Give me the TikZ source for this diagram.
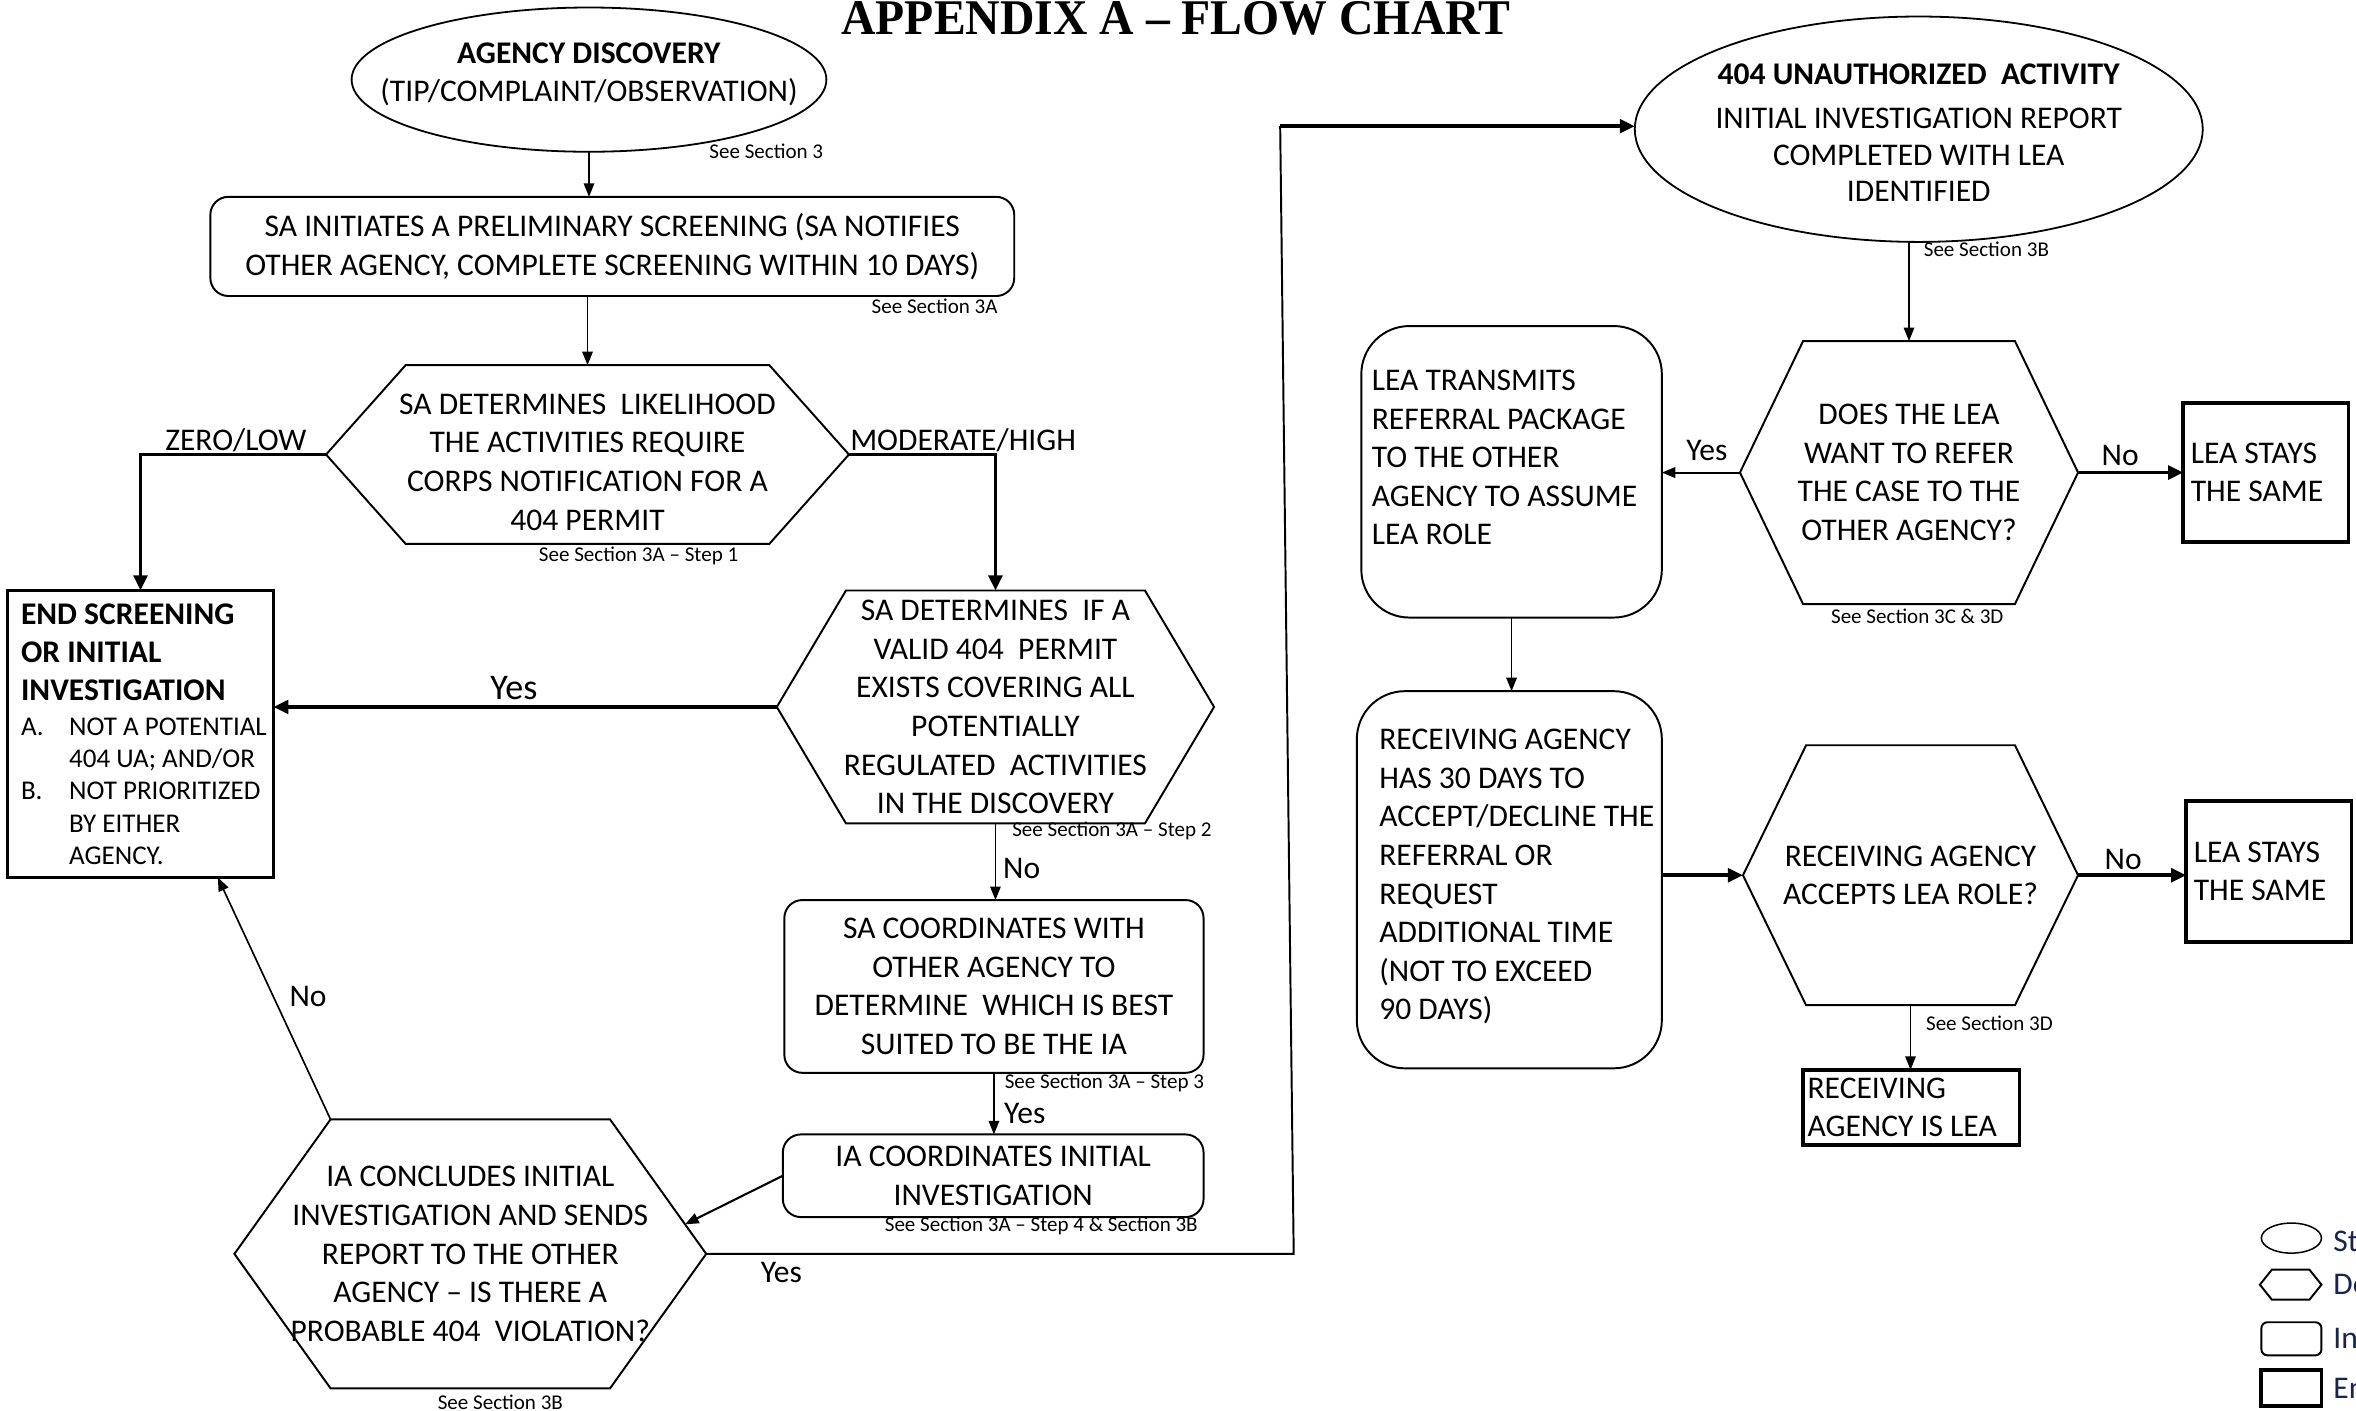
\documentclass[tikz,border=0pt]{standalone}
\usepackage{fontspec}
\setmainfont{Carlito}
\newfontfamily\titlefont{Liberation Serif}
\usetikzlibrary{shapes.geometric,arrows.meta,calc}

\newcommand{\bodyfont}{\fontsize{21}{25.7}\selectfont}
\newcommand{\notefont}{\fontsize{14}{16}\selectfont}
\newcommand{\listfont}{\fontsize{18}{21.5}\selectfont}
\newcommand{\headfont}{\fontsize{21}{25.5}\selectfont\bfseries}

% hexagon drawn round a plain node: #1 node name, #2 slant
\newcommand{\hexframe}[2]{%
  \draw[hexline] ([xshift=#2]#1.north west) -- ([xshift=-#2]#1.north east)
    -- (#1.east) -- ([xshift=-#2]#1.south east)
    -- ([xshift=#2]#1.south west) -- (#1.west) -- cycle;}

\definecolor{legtext}{RGB}{25,35,80}

\tikzset{
  every node/.style={font=\bodyfont, inner sep=0pt, outer sep=0pt},
  startoval/.style={ellipse, draw, line width=1.2pt, align=center},
  stepbox/.style={rectangle, draw, rounded corners=12pt, line width=1.3pt, align=center},
  tallbox/.style={rectangle, draw, rounded corners=32pt, line width=1.3pt},
  endbox/.style={rectangle, draw, line width=2.6pt},
  hexnode/.style={rectangle, align=center},
  hexline/.style={line width=1.3pt, line join=miter},
  note/.style={font=\notefont},
  flow/.style={line width=1.1pt, -{Triangle[length=9pt,width=7pt]}},
  boldflow/.style={line width=2.5pt, -{Triangle[length=10pt,width=9pt]}},
}

\begin{document}
\begin{tikzpicture}[x=1pt, y=-1pt]
  \path[use as bounding box, fill=white] (0,0) rectangle (1568,939);

  \node[anchor=base] (title) at (782.5,23)
    {\resizebox{445pt}{22pt}{\titlefont\bfseries APPENDIX A – FLOW CHART}};

  % screening column
  \node[startoval, minimum width=316pt, minimum height=96pt] (discovery) at (392,53) {};
  \node[align=center] (discoverytxt) at (392,49.5)
    {\textbf{AGENCY DISCOVERY}\\(TIP/COMPLAINT/OBSERVATION)};
  \node[stepbox, minimum width=535pt, minimum height=66pt] (screening) at (407.5,164)
    {SA INITIATES A PRELIMINARY SCREENING (SA NOTIFIES\\OTHER AGENCY, COMPLETE SCREENING WITHIN 10 DAYS)};
  \node[hexnode, minimum width=348pt, minimum height=119pt] (likelihood) at (391,302.5) {};
  \node[align=center] (likelihoodtxt) at (391,307.5)
    {SA DETERMINES\ \ LIKELIHOOD\\THE ACTIVITIES REQUIRE\\CORPS NOTIFICATION FOR A\\404 PERMIT};
  \hexframe{likelihood}{53pt}

  \node[endbox, minimum width=177pt, minimum height=191pt] (endscr) at (93.5,488.5) {};
  \node[anchor=west, align=left, font=\listfont] (endtext) at ([xshift=9pt]endscr.west)
    {{\headfont END SCREENING}\\[4pt]
     {\headfont OR INITIAL}\\[4pt]
     {\headfont INVESTIGATION}\\[1.5pt]
     \makebox[32pt][l]{A.}NOT A POTENTIAL\\
     \hspace*{32pt}404 UA; AND/OR\\
     \makebox[32pt][l]{B.}NOT PRIORITIZED\\
     \hspace*{32pt}BY EITHER\\
     \hspace*{32pt}AGENCY.};

  \node[hexnode, minimum width=291pt, minimum height=155pt] (permit) at (662.5,470.5)
    {SA DETERMINES\ \ IF A\\VALID 404\ \ PERMIT\\EXISTS COVERING ALL\\POTENTIALLY\\REGULATED\ \ ACTIVITIES\\IN THE DISCOVERY};
  \hexframe{permit}{46pt}

  \node[stepbox, minimum width=279pt, minimum height=115pt] (coordsa) at (661.5,656.5)
    {SA COORDINATES WITH\\OTHER AGENCY TO\\DETERMINE\ \ WHICH IS BEST\\SUITED TO BE THE IA};
  \node[stepbox, minimum width=280pt, minimum height=55pt] (coordia) at (661,782.5)
    {IA COORDINATES INITIAL\\INVESTIGATION};
  \node[hexnode, minimum width=314pt, minimum height=179pt] (concludes) at (313,834.5)
    {IA CONCLUDES INITIAL\\INVESTIGATION AND SENDS\\REPORT TO THE OTHER\\AGENCY – IS THERE A\\PROBABLE 404\ \ VIOLATION?};
  \hexframe{concludes}{64pt}

  % lead agency column
  \node[startoval, minimum width=378pt, minimum height=150pt] (unauth) at (1277,86) {};
  \node[align=center, font=\fontsize{21}{24.5}\selectfont] (unauthtxt) at (1277,88.5)
    {\textbf{404 UNAUTHORIZED\ \ ACTIVITY}\\[4.5pt]INITIAL INVESTIGATION REPORT\\COMPLETED WITH LEA\\IDENTIFIED};
  \node[hexnode, minimum width=225pt, minimum height=175pt] (refer) at (1270.5,314.5)
    {DOES THE LEA\\WANT TO REFER\\THE CASE TO THE\\OTHER AGENCY?};
  \hexframe{refer}{42pt}
  \node[endbox, minimum width=110pt, minimum height=93pt] (stays1) at (1508,314.5) {};
  \node[anchor=west, align=left] (stays1txt) at ([xshift=5pt]stays1.west) {LEA STAYS\\THE SAME};

  \node[tallbox, minimum width=200pt, minimum height=194pt] (transmit) at (1006,314) {};
  \node[anchor=west, align=left] (transmittxt) at ([xshift=7pt,yshift=9.5pt]transmit.west)
    {LEA TRANSMITS\\REFERRAL PACKAGE\\TO THE OTHER\\AGENCY TO ASSUME\\LEA ROLE};
  \node[tallbox, minimum width=203pt, minimum height=251pt] (receiving) at (1004.5,585.5) {};
  \node[anchor=west, align=left] (receivingtxt) at ([xshift=15pt,yshift=2pt]receiving.west)
    {RECEIVING AGENCY\\HAS 30 DAYS TO\\ACCEPT/DECLINE THE\\REFERRAL OR\\REQUEST\\ADDITIONAL TIME\\(NOT TO EXCEED\\90 DAYS)};

  \node[hexnode, minimum width=223pt, minimum height=173pt] (accepts) at (1271.5,582.5)
    {RECEIVING AGENCY\\ACCEPTS LEA ROLE?};
  \hexframe{accepts}{42pt}
  \node[endbox, minimum width=110pt, minimum height=94pt] (stays2) at (1510,580) {};
  \node[anchor=west, align=left] (stays2txt) at ([xshift=5pt]stays2.west) {LEA STAYS\\THE SAME};
  \node[endbox, minimum width=144pt, minimum height=50pt] (newlea) at (1272,737) {};
  \node[anchor=west, align=left] (newleatxt) at ([xshift=3pt]newlea.west) {RECEIVING\\AGENCY IS LEA};

  % connectors
  \draw[flow] (discovery.south) -- (discovery.south |- screening.north);
  \draw[flow] (likelihood.north |- screening.south) -- (likelihood.north);
  \draw[boldflow] (likelihood.west) -| (endscr.north);
  \draw[boldflow] (likelihood.east) -| (permit.north);
  \draw[boldflow] (permit.west) -- (permit.west -| endscr.east);
  \draw[flow] (permit.south) -- (permit.south |- coordsa.north);
  \draw[flow] (coordsa.south) -- (coordsa.south |- coordia.north);
  \coordinate (concludesin) at ($(concludes.east)!0.22!([xshift=-64pt]concludes.north east)$);
  \draw[flow, line width=1.4pt] (coordia.west) -- (concludesin);
  \draw[flow] ([xshift=64pt]concludes.north west) -- ([xshift=51.5pt]endscr.south);
  \coordinate (yesbend) at (861,834.5);
  \coordinate (yestop) at (852,84);
  \draw[line width=1.3pt] (concludes.east) -- (yesbend) -- (yestop);
  \draw[boldflow] (yestop) -- (yestop -| unauth.west);
  \draw[flow] (unauth.south -| refer.north) -- (refer.north);
  \draw[flow, line width=1.4pt] (refer.west) -- (refer.west -| transmit.east);
  \draw[boldflow] (refer.east) -- (refer.east -| stays1.west);
  \draw[flow] (transmit.south) -- (transmit.south |- receiving.north);
  \draw[boldflow] (receiving.east |- accepts.west) -- (accepts.west);
  \draw[boldflow] (accepts.east) -- (accepts.east -| stays2.west);
  \draw[flow] (accepts.south) -- (accepts.south |- newlea.north);

  % branch labels
  \node (lbllow) at (157,293) {ZERO/LOW};
  \node (lblhigh) at (641,293) {MODERATE/HIGH};
  \node[font=\fontsize{24}{28}\selectfont] (lblvalid) at (342,458) {Yes};
  \node (lblnovalid) at (680,578) {No};
  \node (lblbest) at (682,741) {Yes};
  \node (lblnoviol) at (205,663) {No};
  \node (lblviol) at (520,847) {Yes};
  \node (lblrefer) at (1136,300) {Yes};
  \node (lblnorefer) at (1411,303) {No};
  \node (lblnoaccept) at (1413,572) {No};

  % section references
  \node[note] (seediscovery) at (510,101) {See Section 3};
  \node[note] (seescreening) at (622,204) {See Section 3A};
  \node[note] (seestep1) at (425,370) {See Section 3A – Step 1};
  \node[note] (seestep2) at (740,553) {See Section 3A – Step 2};
  \node[note] (seestep3) at (735,721) {See Section 3A – Step 3};
  \node[note] (seestep4) at (693,816) {See Section 3A – Step 4 \& Section 3B};
  \node[note] (seeconclude) at (333,933) {See Section 3B};
  \node[note] (seeunauth) at (1322,166) {See Section 3B};
  \node[note] (seerefer) at (1276,410) {See Section 3C \& 3D};
  \node[note] (seeaccept) at (1324,681) {See Section 3D};

  % key
  \node[startoval, line width=1pt, minimum width=40pt, minimum height=20pt] (keystart) at (1525,824) {};
  \node[hexnode, minimum width=41pt, minimum height=20pt] (keydec) at (1524.5,855) {};
  \hexframe{keydec}{8pt}
  \node[stepbox, rounded corners=4pt, minimum width=40pt, minimum height=22pt] (keystep) at (1525,891) {};
  \node[endbox, minimum width=40pt, minimum height=24pt] (keyend) at (1525,924) {};
  \node[anchor=west, text=legtext] (keystarttxt) at (1553,826) {St};
  \node[anchor=west, text=legtext] (keydectxt) at (1553,855) {De};
  \node[anchor=west, text=legtext] (keysteptxt) at (1553,891) {In};
  \node[anchor=west, text=legtext] (keyendtxt) at (1553,924) {En};
\end{tikzpicture}
\end{document}
